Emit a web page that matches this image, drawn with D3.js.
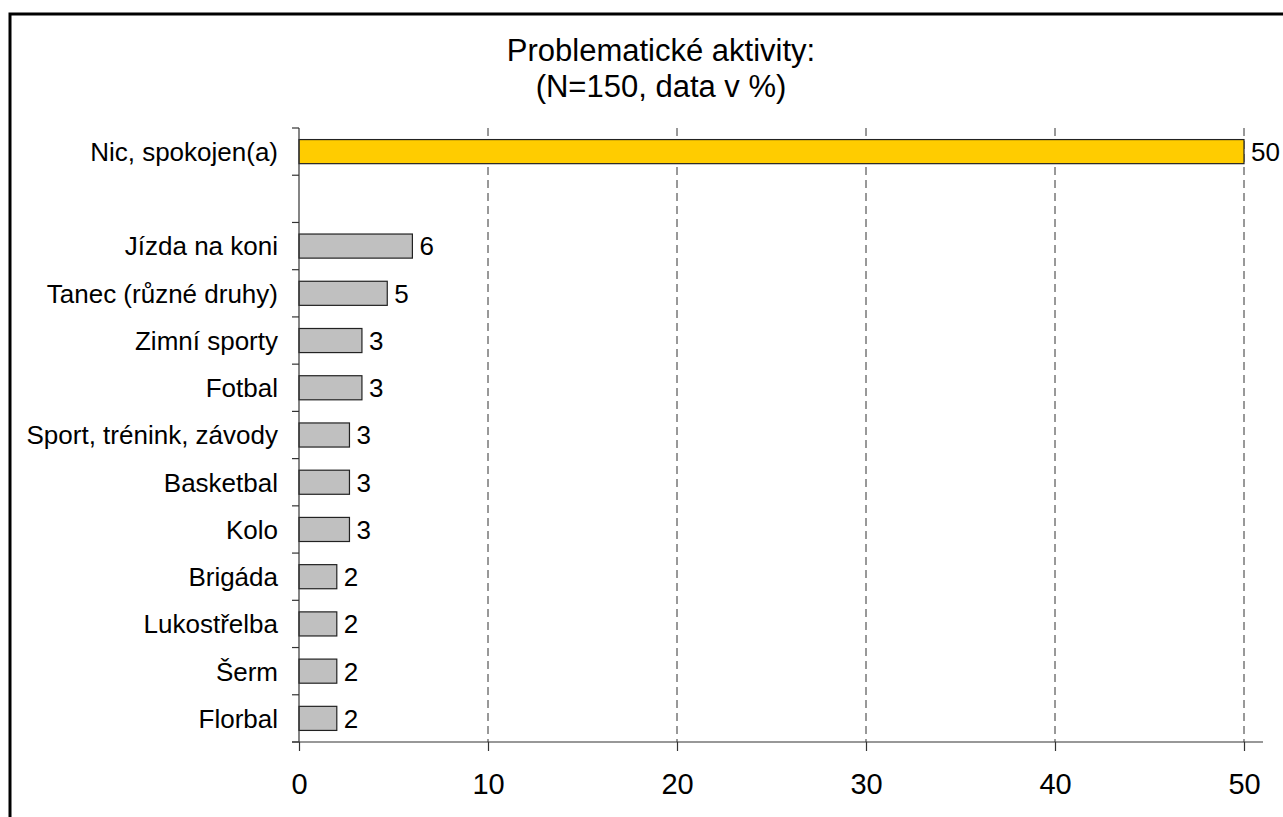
<!DOCTYPE html>
<html>
<head>
<meta charset="utf-8">
<script src="https://cdn.jsdelivr.net/npm/d3@7"></script>
<style>
  body { margin: 0; background: #fff; }
  text { font-family: "Liberation Sans", Arial, sans-serif; fill: #000; }
</style>
</head>
<body>
<script>
// chart data (percent of N=150)
var categories = ["Nic, spokojen(a)", "", "Jízda na koni", "Tanec (různé druhy)", "Zimní sporty", "Fotbal",
  "Sport, trénink, závody", "Basketbal", "Kolo", "Brigáda", "Lukostřelba", "Šerm", "Florbal"];
var values = [50, null, 6, 4.67, 3.33, 3.33, 2.67, 2.67, 2.67, 2, 2, 2, 2];
var xTicks = [0, 10, 20, 30, 40, 50];
var titleLines = ["Problematické aktivity:", "(N=150, data v %)"];

var width = 1283, height = 817;
var plotLeft = 299, plotRight = 1244, plotTop = 128, plotBottom = 742;

var svg = d3.select("body").append("svg")
  .attr("width", width)
  .attr("height", height);

// outer frame (right and bottom edges run off the picture)
svg.append("rect")
  .attr("x", 10).attr("y", 14)
  .attr("width", 1300).attr("height", 900)
  .attr("fill", "none")
  .attr("stroke", "#000")
  .attr("stroke-width", 3);

var x = d3.scaleLinear().domain([0, 50]).range([plotLeft, plotRight]);
var y = d3.scaleBand()
  .domain(categories.map(function(d, i) { return i; }))
  .range([plotTop, plotBottom])
  .paddingInner(0.49)
  .paddingOuter(0.245);
var band = (plotBottom - plotTop) / categories.length;

// title
svg.append("g").selectAll("text")
  .data(titleLines)
  .enter().append("text")
  .attr("x", 661)
  .attr("y", function(d, i) { return 61 + i * 36; })
  .attr("text-anchor", "middle")
  .style("font-size", "31px")
  .text(function(d) { return d; });

// dashed gridlines
svg.append("g").selectAll("line")
  .data(xTicks.slice(1))
  .enter().append("line")
  .attr("x1", function(d) { return x(d); })
  .attr("x2", function(d) { return x(d); })
  .attr("y1", plotTop)
  .attr("y2", plotBottom)
  .attr("stroke", "#333")
  .attr("stroke-width", 1)
  .attr("stroke-dasharray", "8,5");

// bars
var rows = categories.map(function(c, i) { return { i: i, name: c, v: values[i] }; })
  .filter(function(d) { return d.v !== null; });

svg.append("g").selectAll("rect")
  .data(rows)
  .enter().append("rect")
  .attr("x", x(0))
  .attr("y", function(d) { return y(d.i); })
  .attr("width", function(d) { return x(d.v) - x(0); })
  .attr("height", y.bandwidth())
  .attr("fill", function(d) { return d.i === 0 ? "#FFCC00" : "#C0C0C0"; })
  .attr("stroke", "#222")
  .attr("stroke-width", 1.2);

// value labels
svg.append("g").selectAll("text")
  .data(rows)
  .enter().append("text")
  .attr("x", function(d) { return x(d.v) + 7; })
  .attr("y", function(d) { return y(d.i) + y.bandwidth() / 2; })
  .attr("dy", "0.36em")
  .style("font-size", "26px")
  .text(function(d) { return d3.format(".0f")(d.v); });

// category labels
svg.append("g").selectAll("text")
  .data(rows)
  .enter().append("text")
  .attr("x", 278)
  .attr("y", function(d) { return y(d.i) + y.bandwidth() / 2; })
  .attr("dy", "0.36em")
  .attr("text-anchor", "end")
  .style("font-size", "26px")
  .text(function(d) { return d.name; });

// y axis line and ticks at band boundaries
svg.append("line")
  .attr("x1", plotLeft).attr("x2", plotLeft)
  .attr("y1", plotTop).attr("y2", plotBottom)
  .attr("stroke", "#333").attr("stroke-width", 1.2);
svg.append("g").selectAll("line")
  .data(d3.range(categories.length + 1))
  .enter().append("line")
  .attr("x1", plotLeft - 7).attr("x2", plotLeft)
  .attr("y1", function(d) { return plotTop + d * band; })
  .attr("y2", function(d) { return plotTop + d * band; })
  .attr("stroke", "#333").attr("stroke-width", 1.2);

// x axis
var xAxis = d3.axisBottom(x)
  .tickValues(xTicks)
  .tickSize(9)
  .tickPadding(22)
  .tickFormat(d3.format("d"));
var gx = svg.append("g")
  .attr("transform", "translate(0," + plotBottom + ")")
  .call(xAxis);
gx.select(".domain").remove();
gx.selectAll(".tick line").attr("stroke", "#333").attr("stroke-width", 1.2);
gx.selectAll(".tick text")
  .style("font-family", "'Liberation Sans', Arial, sans-serif")
  .style("font-size", "29px")
  .attr("fill", "#000");
svg.append("line")
  .attr("x1", plotLeft - 7).attr("x2", 1263)
  .attr("y1", plotBottom).attr("y2", plotBottom)
  .attr("stroke", "#333").attr("stroke-width", 1.2);
</script>
</body>
</html>
